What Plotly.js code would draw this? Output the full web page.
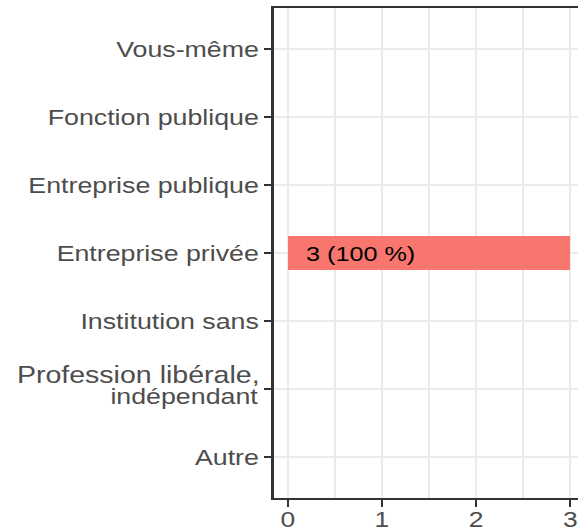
<!DOCTYPE html>
<html>
<head>
<meta charset="utf-8">
<script src="https://cdn.plot.ly/plotly-3.0.1.min.js"></script>
<style>
html,body{margin:0;padding:0;overflow:hidden;background:#fff;}
#chart{width:487px;height:530px;transform:scaleX(1.2);transform-origin:0 0;}
</style>
</head>
<body>
<div id="chart"></div>
<script>
const categories = ["Vous-même","Fonction publique","Entreprise publique","Entreprise privée","Institution sans","Profession libérale,<br>indépendant","Autre"];
const counts = [0,0,0,3,0,0,0];
const percents = [0,0,0,100,0,0,0];
const xTicks = [0,1,2,3];

const FONT = '"Liberation Sans", Arial, sans-serif';
const LABEL_COLOR = '#4D4D4D';
const LABEL_SIZE = 22.3;

const trace = {
  type: 'bar',
  orientation: 'h',
  x: counts,
  y: categories,
  width: 0.5,
  marker: {color: '#F8766D', line: {width: 0}},
  hoverinfo: 'none'
};

const annotations = [];
counts.forEach((c, i) => {
  if (c > 0) {
    annotations.push({
      x: 0, y: categories[i], xref: 'x', yref: 'y',
      text: c + ' (' + percents[i] + ' %)',
      showarrow: false, xanchor: 'left', yanchor: 'middle', xshift: 13,
      font: {family: FONT, size: 21, color: '#000000'}
    });
  }
});

// multi-line category labels drawn line by line (tighter line spacing)
const tickText = categories.map(c => c.includes('<br>') ? '' : c);
categories.forEach((c, i) => {
  if (c.includes('<br>')) {
    const lines = c.split('<br>');
    const shifts = [15, -7];
    const sizes = [23.8, LABEL_SIZE];
    lines.forEach((ln, k) => {
      annotations.push({
        x: 0, xref: 'paper', y: c, yref: 'y',
        text: ln, showarrow: false, xanchor: 'right', yanchor: 'middle',
        xshift: -10, yshift: shifts[k],
        font: {family: FONT, size: sizes[k], color: LABEL_COLOR}
      });
    });
  }
});

const layout = {
  width: 487, height: 530,
  margin: {l: 228, r: 0, t: 8, b: 32, pad: 0},
  paper_bgcolor: '#ffffff', plot_bgcolor: '#ffffff',
  showlegend: false,
  font: {family: FONT, size: LABEL_SIZE, color: LABEL_COLOR},
  bargap: 0,
  xaxis: {
    range: [-0.15, 3.15],
    tickvals: xTicks, ticktext: xTicks.map(String),
    showgrid: true, gridcolor: '#EBEBEB', gridwidth: 2,
    minor: {tickvals: [0.5,1.5,2.5], showgrid: true, gridcolor: '#EBEBEB', gridwidth: 1.2, ticks: ''},
    zeroline: false,
    showline: true, linecolor: '#333333', linewidth: 1.8, mirror: true,
    ticks: 'outside', ticklen: 7, tickwidth: 1.8, tickcolor: '#333333',
    ticklabelstandoff: -6,
    tickfont: {family: FONT, size: 22, color: LABEL_COLOR},
    fixedrange: true
  },
  yaxis: {
    type: 'category',
    categoryorder: 'array', categoryarray: categories,
    tickvals: categories, ticktext: tickText,
    range: [6.6, -0.6],
    showgrid: true, gridcolor: '#EBEBEB', gridwidth: 1.8,
    zeroline: false,
    showline: true, linecolor: '#333333', linewidth: 1.8, mirror: true,
    ticks: 'outside', ticklen: 6, tickwidth: 2, tickcolor: '#333333',
    tickfont: {family: FONT, size: LABEL_SIZE, color: LABEL_COLOR},
    fixedrange: true
  },
  annotations: annotations
};

Plotly.newPlot('chart', [trace], layout, {displayModeBar: false, staticPlot: true});
</script>
</body>
</html>
